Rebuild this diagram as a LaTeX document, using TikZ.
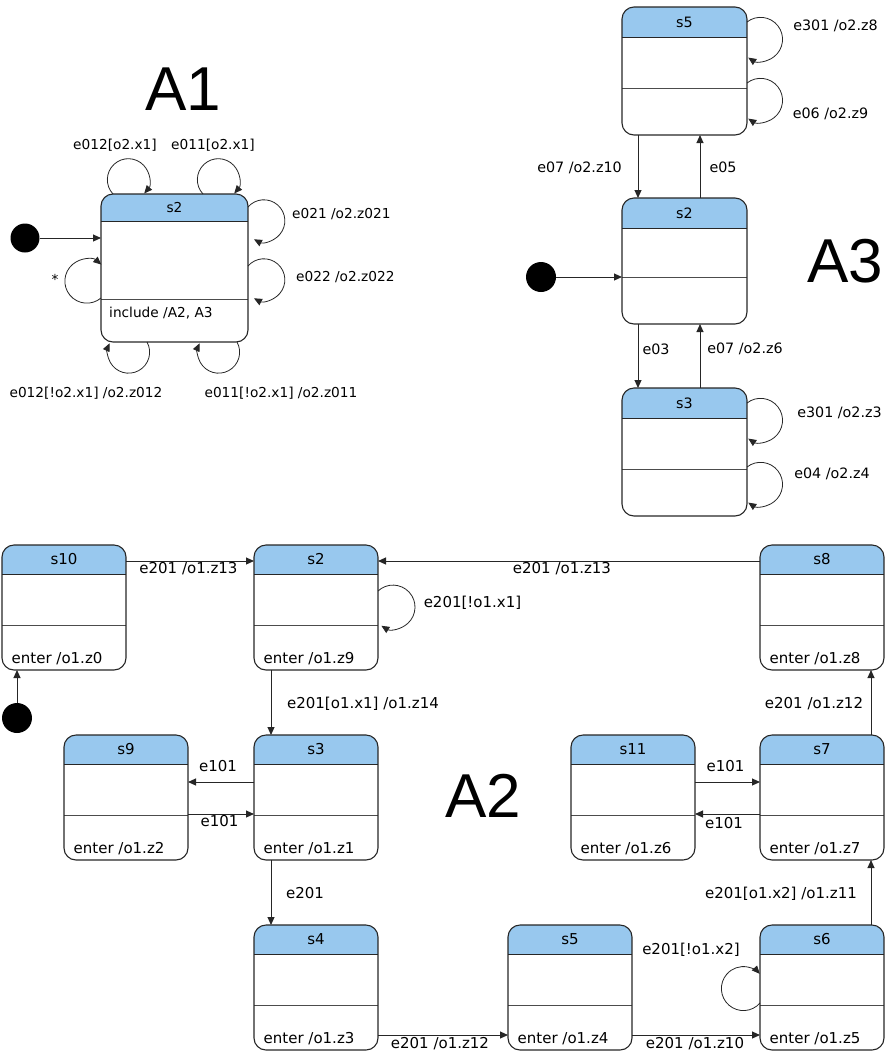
\documentclass[tikz,border=0pt]{standalone}
\usepackage{fontspec}
\setmainfont{DejaVu Sans}
\newfontfamily\bigtitlefont{Liberation Sans}
\usetikzlibrary{arrows.meta,calc}
\definecolor{hdrblue}{RGB}{152,200,238}
\tikzset{
  statebox/.style={draw=black!85, line width=1.1pt, rounded corners=12pt, rectangle, inner sep=0pt, outer sep=0pt},
  hdrline/.style={draw=black!85, line width=1pt},
  sepline/.style={draw=black!70, line width=0.7pt},
  titletext/.style={inner sep=0pt},
  lbl/.style={inner sep=0pt},
  boxtext/.style={inner sep=0pt, anchor=base west},
  trans/.style={draw=black!85, line width=1pt, -{Triangle[length=8pt,width=7pt]}},
  selfloop/.style={draw=black!85, line width=0.8pt, -{Triangle[length=8pt,width=7pt]}},
  initdot/.style={circle, fill=black, minimum size=29pt, inner sep=0pt},
  bigname/.style={inner sep=0pt, anchor=base west, font=\bigtitlefont\fontsize{62}{62}\selectfont},
  fa/.style={font=\fontsize{13.7}{16}\selectfont},
  fb/.style={font=\fontsize{14.3}{17}\selectfont},
  fc/.style={font=\fontsize{15}{18}\selectfont}
}
% name, x, y, w, h, header h, separator offset, title
\newcommand{\StateBox}[8]{%
  \begin{scope}
    \clip[rounded corners=12pt] (#2,-#3) rectangle ++(#4,-#5);
    \fill[hdrblue] (#2,-#3) rectangle ++(#4,-#6);
  \end{scope}
  \draw[hdrline] (#2,-#3-#6) -- ++(#4,0);
  \draw[sepline] (#2,-#3-#7) -- ++(#4,0);
  \node[statebox, minimum width=#4pt, minimum height=#5pt, anchor=north west] (#1) at (#2,-#3) {};
  \node[titletext] (#1t) at (#2+#4/2,-#3-#6/2) {#8};
}
\begin{document}
\begin{tikzpicture}[x=1pt,y=1pt]
\useasboundingbox (0,0) rectangle (885,-1053);

% ================= A1 =================
\node[bigname] (a1name) at (145,-110) {A1};
\begin{scope}[every node/.append style={fa}]
\StateBox{a1s2}{101}{194}{147}{148}{27}{105}{s2}
\node[boxtext] (a1s2x) at (109,-317) {include /A2, A3};
\node[initdot] (a1init) at (25,-238) {};
\draw[trans] (a1init) -- (a1init -| a1s2.west);
\draw[selfloop] ([xshift=12pt]a1s2.north west) arc[start angle=223, end angle=-41, radius=21];
\draw[selfloop] ([xshift=102pt]a1s2.north west) arc[start angle=223, end angle=-41, radius=21];
\draw[selfloop] ([yshift=-13pt]a1s2.north east) arc[start angle=139, end angle=-118, radius=21];
\draw[selfloop] ([yshift=-72pt]a1s2.north east) arc[start angle=139, end angle=-118, radius=21];
\draw[selfloop] ([yshift=-104pt]a1s2.north west) arc[start angle=-50, end angle=-311, radius=22];
\draw[selfloop] ([xshift=46pt]a1s2.south west) arc[start angle=29, end angle=-205, radius=21];
\draw[selfloop] ([xshift=136pt]a1s2.south west) arc[start angle=29, end angle=-205, radius=21];
\node[lbl] (a1l1) at (115,-145) {e012[o2.x1]};
\node[lbl] (a1l2) at (213,-145) {e011[o2.x1]};
\node[lbl, anchor=west] (a1l3) at (292,-214) {e021 /o2.z021};
\node[lbl, anchor=west] (a1l4) at (296,-277) {e022 /o2.z022};
\node[lbl] (a1l5) at (55,-279) {*};
\node[lbl] (a1l6) at (86,-393) {e012[!o2.x1] /o2.z012};
\node[lbl] (a1l7) at (281,-393) {e011[!o2.x1] /o2.z011};
\end{scope}

% ================= A3 =================
\node[bigname] (a3name) at (807,-282) {A3};
\begin{scope}[every node/.append style={fb}]
\StateBox{a3s5}{622}{7}{125}{128}{30}{81}{s5}
\StateBox{a3s2}{622}{198}{125}{126}{30}{79}{s2}
\StateBox{a3s3}{622}{388}{125}{128}{30}{81}{s3}
\node[initdot, minimum size=30pt] (a3init) at (541,-277) {};
\draw[trans] (a3init) -- (a3init -| a3s2.west);
\draw[trans] ([xshift=16pt]a3s5.south west) -- ([xshift=16pt]a3s2.north west);
\draw[trans] ([xshift=78pt]a3s2.north west) -- ([xshift=78pt]a3s5.south west);
\draw[trans] ([xshift=16pt]a3s2.south west) -- ([xshift=16pt]a3s3.north west);
\draw[trans] ([xshift=78pt]a3s3.north west) -- ([xshift=78pt]a3s2.south west);
\draw[selfloop] ([yshift=-15pt]a3s5.north east) arc[start angle=128, end angle=-124, radius=22];
\draw[selfloop] ([yshift=-76pt]a3s5.north east) arc[start angle=128, end angle=-124, radius=22];
\draw[selfloop] ([yshift=-15pt]a3s3.north east) arc[start angle=128, end angle=-124, radius=22];
\draw[selfloop] ([yshift=-79pt]a3s3.north east) arc[start angle=128, end angle=-124, radius=22];
\node[lbl] (a3l1) at (835.5,-26) {e301 /o2.z8};
\node[lbl] (a3l2) at (830.5,-114) {e06 /o2.z9};
\node[lbl] (a3l3) at (579.5,-167.5) {e07 /o2.z10};
\node[lbl] (a3l4) at (723,-167.5) {e05};
\node[lbl] (a3l5) at (656,-349) {e03};
\node[lbl] (a3l6) at (745,-349) {e07 /o2.z6};
\node[lbl] (a3l7) at (839.5,-412.5) {e301 /o2.z3};
\node[lbl] (a3l8) at (832,-474) {e04 /o2.z4};
\end{scope}

% ================= A2 =================
\node[bigname] (a2name) at (445,-817) {A2};
\begin{scope}[every node/.append style={fc}]
\StateBox{a2s10}{2}{545}{124}{125}{29}{80}{s10}
\StateBox{a2s2}{254}{545}{124}{125}{29}{80}{s2}
\StateBox{a2s8}{760}{545}{124}{125}{29}{80}{s8}
\StateBox{a2s9}{64}{735}{124}{125}{29}{80}{s9}
\StateBox{a2s3}{254}{735}{124}{125}{29}{80}{s3}
\StateBox{a2s11}{571}{735}{124}{125}{29}{80}{s11}
\StateBox{a2s7}{760}{735}{124}{125}{29}{80}{s7}
\StateBox{a2s4}{254}{925}{124}{125}{29}{80}{s4}
\StateBox{a2s5}{508}{925}{124}{125}{29}{80}{s5}
\StateBox{a2s6}{760}{925}{124}{125}{29}{80}{s6}
\node[boxtext] (a2s10x) at (11.5,-663) {enter /o1.z0};
\node[boxtext] (a2s2x) at (263.5,-663) {enter /o1.z9};
\node[boxtext] (a2s8x) at (769.5,-663) {enter /o1.z8};
\node[boxtext] (a2s9x) at (73.5,-853) {enter /o1.z2};
\node[boxtext] (a2s3x) at (263.5,-853) {enter /o1.z1};
\node[boxtext] (a2s11x) at (580.5,-853) {enter /o1.z6};
\node[boxtext] (a2s7x) at (769.5,-853) {enter /o1.z7};
\node[boxtext] (a2s4x) at (263.5,-1043) {enter /o1.z3};
\node[boxtext] (a2s5x) at (517.5,-1043) {enter /o1.z4};
\node[boxtext] (a2s6x) at (769.5,-1043) {enter /o1.z5};
\node[initdot, minimum size=30pt] (a2init) at (17,-718) {};
\draw[trans] (a2init) -- ([xshift=15pt]a2s10.south west);
\draw[trans] ([yshift=-16pt]a2s10.north east) -- ([yshift=-16pt]a2s2.north west);
\draw[trans] ([yshift=-16pt]a2s8.north west) -- ([yshift=-16pt]a2s2.north east);
\draw[trans] ([xshift=17pt]a2s2.south west) -- ([xshift=17pt]a2s3.north west);
\draw[trans] ([yshift=-47pt]a2s3.north west) -- ([yshift=-47pt]a2s9.north east);
\draw[trans] ([yshift=-79pt]a2s9.north east) -- ([yshift=-79pt]a2s3.north west);
\draw[trans] ([xshift=17pt]a2s3.south west) -- ([xshift=17pt]a2s4.north west);
\draw[trans] ([yshift=15pt]a2s4.south east) -- ([yshift=15pt]a2s5.south west);
\draw[trans] ([yshift=15pt]a2s5.south east) -- ([yshift=15pt]a2s6.south west);
\draw[trans] ([xshift=-13pt]a2s6.north east) -- ([xshift=-13pt]a2s7.south east);
\draw[trans] ([xshift=-13pt]a2s7.north east) -- ([xshift=-13pt]a2s8.south east);
\draw[trans] ([yshift=-47pt]a2s11.north east) -- ([yshift=-47pt]a2s7.north west);
\draw[trans] ([yshift=-79pt]a2s7.north west) -- ([yshift=-79pt]a2s11.north east);
\draw[selfloop] ([yshift=-46pt]a2s2.north east) arc[start angle=133, end angle=-122, radius=22];
\draw[selfloop] ([yshift=-78pt]a2s6.north west) arc[start angle=-41, end angle=-318, radius=22];
\node[lbl] (a2l1) at (188.5,-569) {e201 /o1.z13};
\node[lbl] (a2l2) at (562,-569) {e201 /o1.z13};
\node[lbl] (a2l3) at (472.5,-603) {e201[!o1.x1]};
\node[lbl] (a2l4) at (363,-703.5) {e201[o1.x1] /o1.z14};
\node[lbl] (a2l5) at (814,-703.5) {e201 /o1.z12};
\node[lbl] (a2l6) at (218,-766.5) {e101};
\node[lbl] (a2l7) at (219.5,-821.5) {e101};
\node[lbl] (a2l8) at (725.5,-766.5) {e101};
\node[lbl] (a2l9) at (724,-823) {e101};
\node[lbl] (a2l10) at (305,-893.5) {e201};
\node[lbl] (a2l11) at (781,-893.5) {e201[o1.x2] /o1.z11};
\node[lbl] (a2l12) at (691,-950) {e201[!o1.x2]};
\node[lbl] (a2l13) at (440,-1043.5) {e201 /o1.z12};
\node[lbl] (a2l14) at (695,-1043.5) {e201 /o1.z10};
\end{scope}
\end{tikzpicture}
\end{document}
